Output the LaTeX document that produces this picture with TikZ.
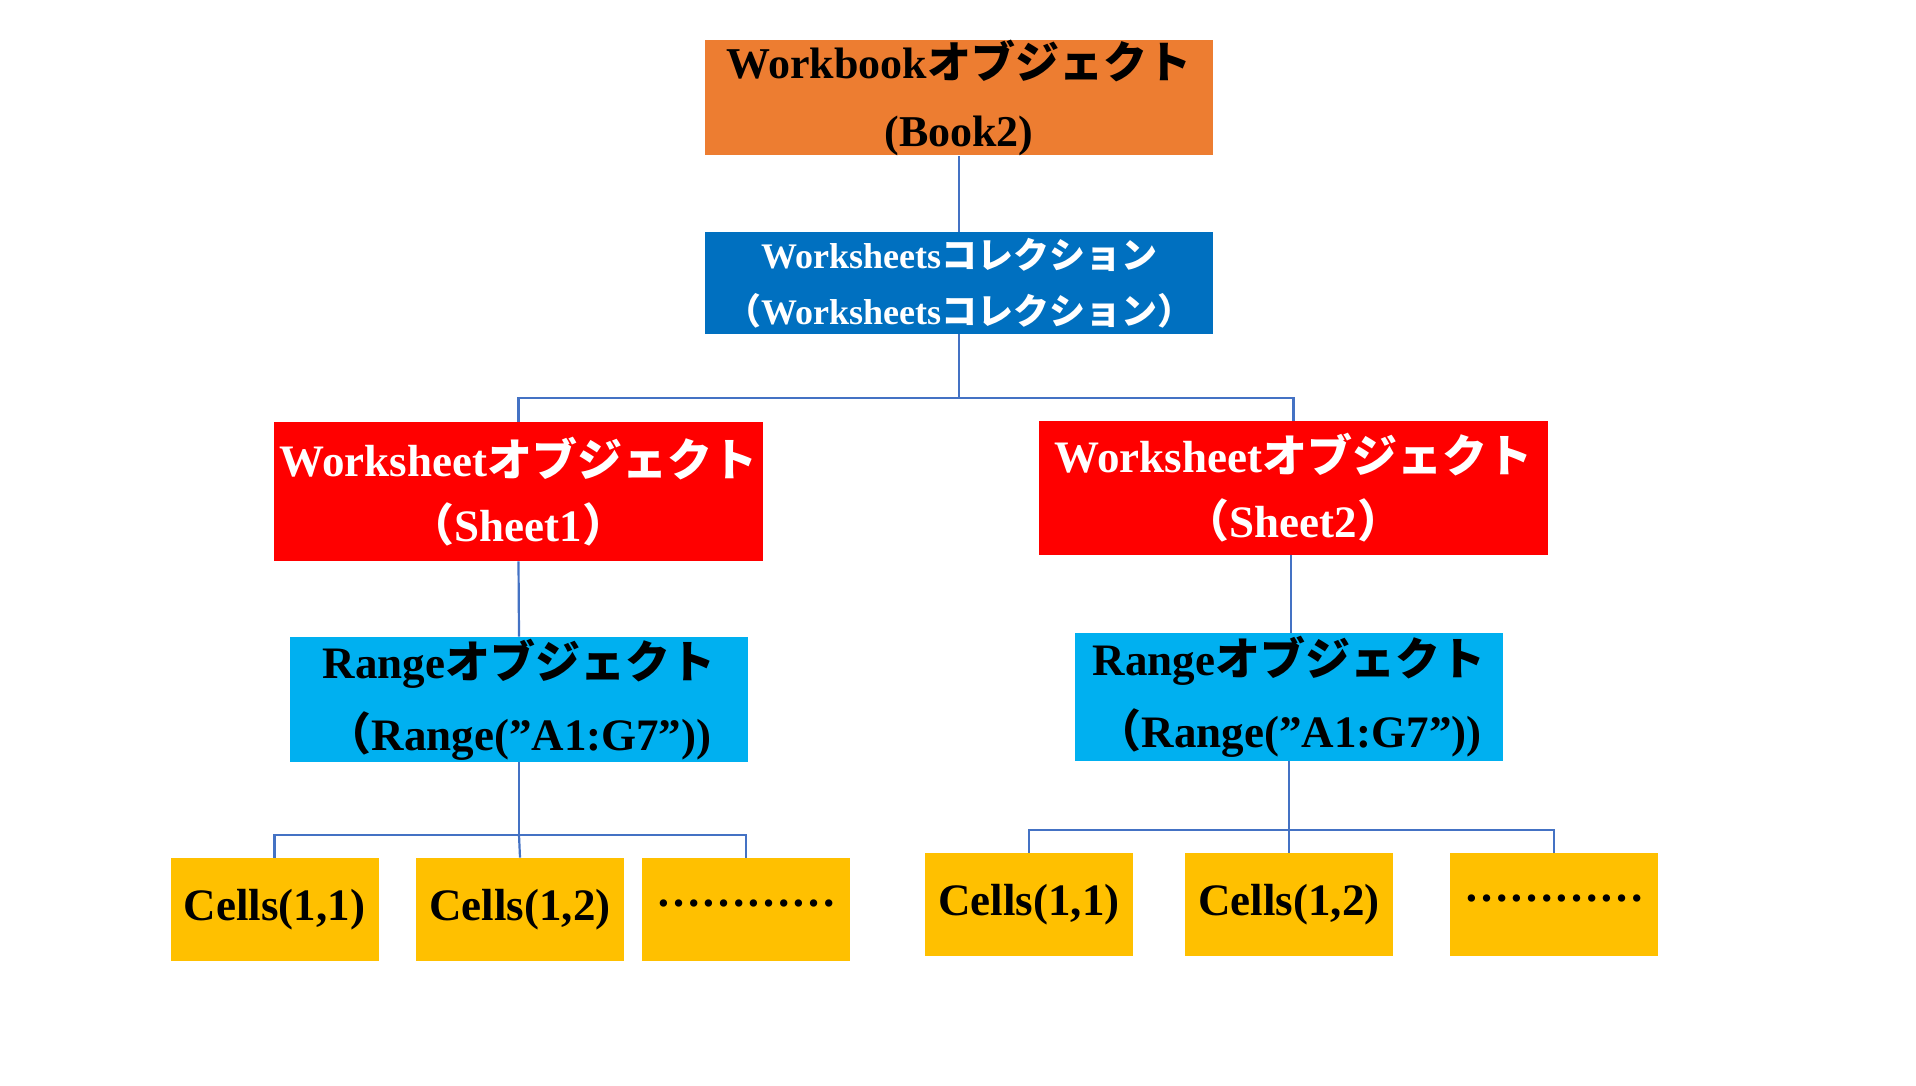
\documentclass[tikz,border=0pt]{standalone}
\usepackage{fontspec}
\setmainfont{Liberation Serif}
\newfontfamily\jp{Noto Sans CJK JP}
\definecolor{cbook}{HTML}{ED7D31}
\definecolor{cwss}{HTML}{0070C0}
\definecolor{cws}{HTML}{FF0000}
\definecolor{crange}{HTML}{00B0F0}
\definecolor{ccell}{HTML}{FFC000}
\definecolor{cline}{HTML}{4472C4}
\begin{document}
\begin{tikzpicture}[x=0.5pt,y=-0.5pt,
  box/.style={inner sep=0pt, align=center, font=\bfseries},
  conn/.style={draw=cline, line width=1.1pt}]
\useasboundingbox (0,0) rectangle (1916,1086);
% boxes
\node[box, fill=cbook, text=black, minimum width=254pt, minimum height=56.5pt,
  font=\bfseries\fontsize{22}{34}\selectfont] (book) at (959,97.5)
  {Workbook{\jp オブジェクト}\\(Book2)};
\node[box, fill=cwss, text=white, minimum width=254pt, minimum height=51pt,
  font=\bfseries\fontsize{18}{28}\selectfont] (wss) at (959,283)
  {Worksheets{\jp コレクション}\\{\jp （}Worksheets{\jp コレクション）}};
\node[box, fill=cws, text=white, minimum width=244.5pt, minimum height=69.5pt,
  font=\bfseries\fontsize{22.5}{32.5}\selectfont] (ws1) at (518.5,491.5)
  {Worksheet{\jp オブジェクト}\\{\jp （}Sheet1{\jp ）}};
\node[box, fill=cws, text=white, minimum width=254.5pt, minimum height=67pt,
  font=\bfseries\fontsize{22.5}{32.5}\selectfont] (ws2) at (1293.5,488)
  {Worksheet{\jp オブジェクト}\\{\jp （}Sheet2{\jp ）}};
\node[box, fill=crange, text=black, minimum width=229pt, minimum height=62.5pt,
  font=\bfseries\fontsize{22.5}{36}\selectfont] (rg1) at (519,699.5)
  {Range{\jp オブジェクト}\\{\jp （}Range(”A1:G7”))};
\node[box, fill=crange, text=black, minimum width=214pt, minimum height=64pt,
  font=\bfseries\fontsize{22.5}{36}\selectfont] (rg2) at (1289,697)
  {Range{\jp オブジェクト}\\{\jp （}Range(”A1:G7”))};
\tikzset{cell/.style={box, fill=ccell, text=black, minimum width=104pt, minimum height=51.5pt,
  font=\bfseries\fontsize{22.5}{27}\selectfont}}
\node[cell] (c11) at (274.5,909.5) {Cells(1,1)};
\node[cell] (c12) at (520,909.5) {Cells(1,2)};
\node[cell] (c13) at (746,909.5) {\raisebox{0.28em}{…………}};
\node[cell] (c21) at (1029,904.5) {Cells(1,1)};
\node[cell] (c22) at (1289,904.5) {Cells(1,2)};
\node[cell] (c23) at (1554,904.5) {\raisebox{0.28em}{…………}};
% connectors
\coordinate (bus1) at (959,398);
\coordinate (bus2) at (519,835);
\coordinate (bus3) at (1289,830);
\coordinate (ws2b) at (1291,555);
\draw[conn] (book.south) -- (wss.north);
\draw[conn] (wss.south) -- (bus1) -| (ws1.north);
\draw[conn] (bus1) -| (ws2.north);
\draw[conn] (ws1.south) -- (rg1.north);
\draw[conn] (ws2b) -- (ws2b |- rg2.north);
\draw[conn] (rg1.south) -- (bus2) -| (c11.north);
\draw[conn] (bus2) -- (c12.north);
\draw[conn] (bus2) -| (c13.north);
\draw[conn] (rg2.south) -- (bus3) -| (c21.north);
\draw[conn] (bus3) -- (c22.north);
\draw[conn] (bus3) -| (c23.north);
\end{tikzpicture}
\end{document}
